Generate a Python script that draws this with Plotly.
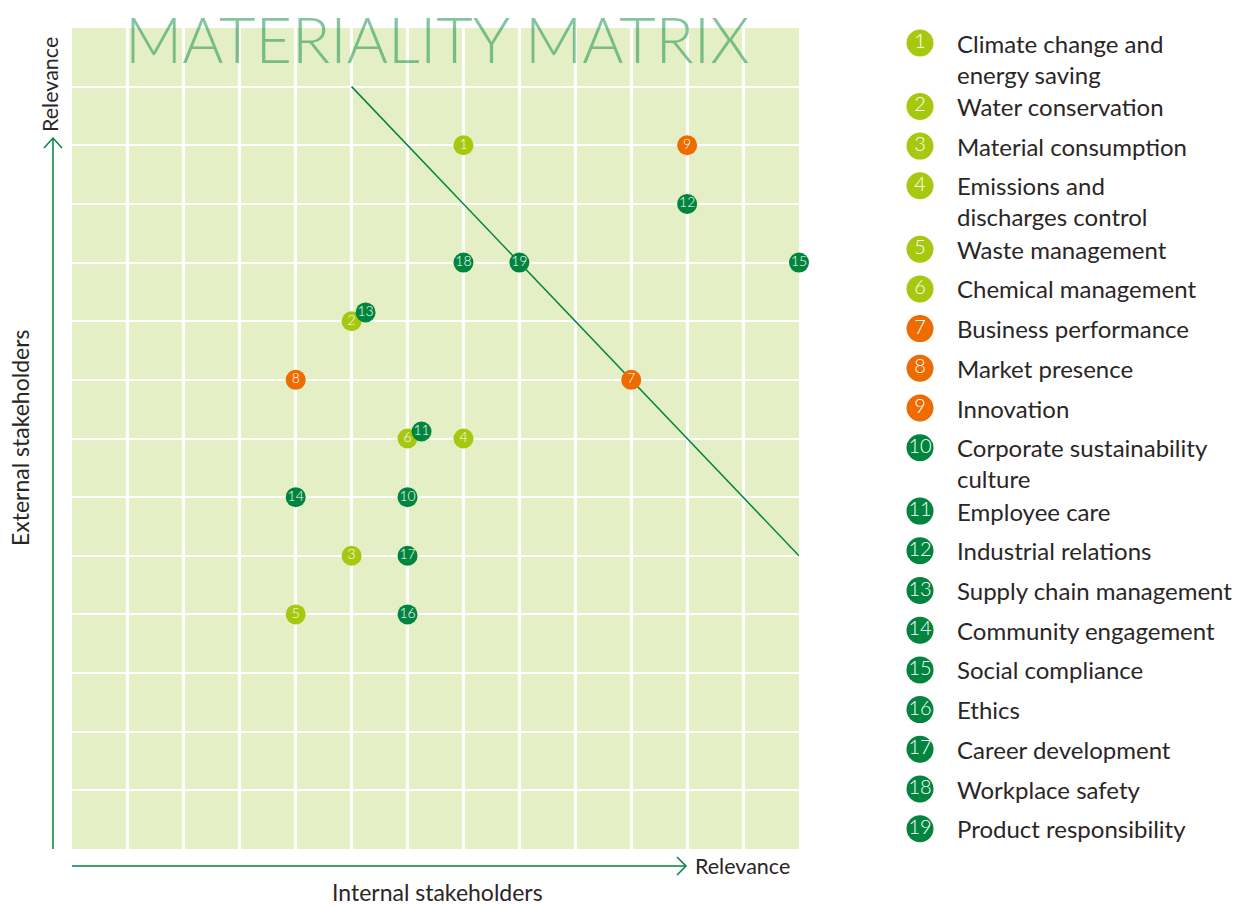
import plotly.graph_objects as go

W, H = 1253, 906

# ---- data ----
ids = [str(i) for i in range(1, 20)]
labels = [
    "Climate change and<br>energy saving",
    "Water conservation",
    "Material consumption",
    "Emissions and<br>discharges control",
    "Waste management",
    "Chemical management",
    "Business performance",
    "Market presence",
    "Innovation",
    "Corporate sustainability<br>culture",
    "Employee care",
    "Industrial relations",
    "Supply chain management",
    "Community engagement",
    "Social compliance",
    "Ethics",
    "Career development",
    "Workplace safety",
    "Product responsibility",
]
internal = [7, 5, 5, 7, 4, 6, 10, 4, 11, 6, 6.25, 11, 5.25, 4, 13, 6, 6, 7, 8]
external = [12, 9, 5, 7, 4, 7, 8, 8, 12, 6, 7.12, 11, 9.15, 6, 10, 4, 5, 10, 10]
group = ["env"] * 6 + ["eco"] * 3 + ["soc"] * 10
threshold_x = [5, 13]
threshold_y = [13, 5]

colors = {"env": "#A6C80F", "eco": "#EE6B00", "soc": "#00843E"}
FONT = "Lato"
TEXT = "#2A2626"
LINE = "#00843D"

# plot-area pixel box
PX0, PX1, PY0, PY1 = 72, 799, 28, 849

fig = go.Figure()

# threshold diagonal
fig.add_trace(go.Scatter(x=threshold_x, y=threshold_y, mode="lines",
                         line=dict(color=LINE, width=1.5), showlegend=False,
                         hoverinfo="skip", xaxis="x", yaxis="y"))

# scatter points grouped by colour (light first so dark green overlaps)
for g in ["env", "eco", "soc"]:
    idx = [i for i in range(19) if group[i] == g]
    fig.add_trace(go.Scatter(
        x=[internal[i] for i in idx], y=[external[i] for i in idx],
        text=[ids[i] for i in idx], mode="markers+text",
        marker=dict(size=20, color=colors[g], line=dict(width=0)),
        textposition="middle center",
        textfont=dict(family=FONT, size=14, color="white", weight=300),
        cliponaxis=False, showlegend=False, hoverinfo="skip",
        xaxis="x", yaxis="y"))

# ---- legend (pixel overlay axis) ----
leg_y = []
y = 43
for lab in labels:
    leg_y.append(y)
    y += 39.7 + 23.7 * (lab.count("<br>"))
leg_x = [920] * 19
fig.add_trace(go.Scatter(
    x=leg_x, y=leg_y, text=ids, mode="markers+text",
    marker=dict(size=27, color=[colors[g] for g in group]),
    textposition="middle center",
    textfont=dict(family=FONT, size=20, color="white", weight=300),
    showlegend=False, hoverinfo="skip", cliponaxis=False,
    xaxis="x2", yaxis="y2"))

annotations = []
for lab, yy in zip(labels, leg_y):
    for k, line in enumerate(lab.split("<br>")):
        annotations.append(dict(x=955, y=yy + 31 * k, xref="x2", yref="y2",
                                text=line, showarrow=False, xanchor="left",
                                yanchor="middle",
                                font=dict(family=FONT, size=24, color=TEXT)))

def px(x):
    return x / W

def py(y):
    return 1 - y / H

# title
annotations.append(dict(x=px(437), y=1, xref="paper", yref="paper",
                        text="MATERIALITY MATRIX", showarrow=False,
                        xanchor="center", yanchor="top", borderpad=0,
                        font=dict(family=FONT, size=63, weight=300,
                                  color="rgba(20,141,72,0.52)")))
# axis labels
annotations += [
    dict(x=px(693), y=py(866), xref="paper", yref="paper", text="Relevance",
         showarrow=False, xanchor="left", yanchor="middle",
         font=dict(family=FONT, size=21.5, color=TEXT)),
    dict(x=px(437), y=py(892), xref="paper", yref="paper",
         text="Internal stakeholders", showarrow=False, xanchor="center",
         yanchor="middle", font=dict(family=FONT, size=23, color=TEXT)),
    dict(x=px(50), y=py(85), xref="paper", yref="paper", text="Relevance",
         showarrow=False, textangle=-90, xanchor="center", yanchor="middle",
         font=dict(family=FONT, size=21.5, color=TEXT)),
    dict(x=px(20), y=py(438), xref="paper", yref="paper",
         text="External stakeholders", showarrow=False, textangle=-90,
         xanchor="center", yanchor="middle",
         font=dict(family=FONT, size=23, color=TEXT)),
]

shapes = [
    # plot background
    dict(type="rect", xref="x domain", yref="y domain", x0=0, x1=1, y0=0, y1=1,
         fillcolor="#E4EFC6", line=dict(width=0), layer="below"),
    # y arrow
    dict(type="line", xref="paper", yref="paper", x0=px(53), x1=px(53),
         y0=py(849), y1=py(138), line=dict(color=LINE, width=1.5)),
    dict(type="path", xref="paper", yref="paper",
         path=f"M {px(44)},{py(148)} L {px(53)},{py(138)} L {px(62)},{py(148)}",
         line=dict(color=LINE, width=1.5)),
    # x arrow
    dict(type="line", xref="paper", yref="paper", x0=px(72), x1=px(686),
         y0=py(866), y1=py(866), line=dict(color=LINE, width=1.5)),
    dict(type="path", xref="paper", yref="paper",
         path=f"M {px(677)},{py(857)} L {px(686)},{py(866)} L {px(677)},{py(875)}",
         line=dict(color=LINE, width=1.5)),
]

fig.update_layout(
    width=W, height=H, margin=dict(l=0, r=0, t=0, b=0),
    paper_bgcolor="white", plot_bgcolor="rgba(0,0,0,0)",
    xaxis=dict(domain=[PX0 / W, PX1 / W], range=[0, 13], dtick=1,
               showgrid=True, gridcolor="white", gridwidth=2.5,
               zeroline=False, showticklabels=False, showline=False,
               ticks="", fixedrange=True),
    yaxis=dict(domain=[1 - PY1 / H, 1 - PY0 / H], range=[0, 14], dtick=1,
               showgrid=True, gridcolor="white", gridwidth=2,
               zeroline=False, showticklabels=False, showline=False,
               ticks="", fixedrange=True),
    xaxis2=dict(domain=[0, 1], range=[0, W], visible=False, fixedrange=True),
    yaxis2=dict(domain=[0, 1], range=[H, 0], visible=False, fixedrange=True),
    annotations=annotations, shapes=shapes,
)

fig.write_html("out.html", config={"displayModeBar": False},
               post_script="document.body.style.margin='0';document.body.style.overflow='hidden';")
